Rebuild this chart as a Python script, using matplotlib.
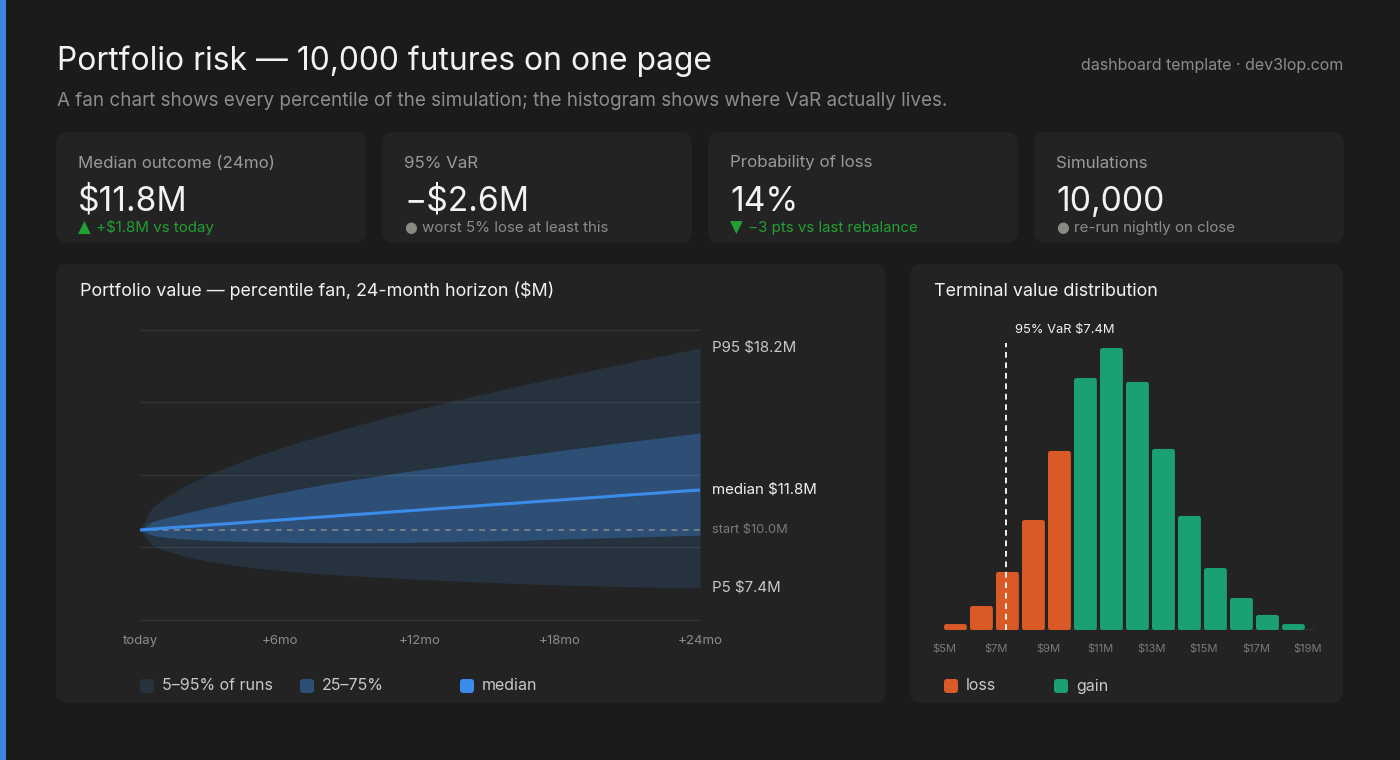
import matplotlib
matplotlib.use("Agg")
import matplotlib.pyplot as plt
from matplotlib.patches import FancyBboxPatch, Rectangle
import numpy as np

plt.rcParams['font.family'] = ['Inter', 'DejaVu Sans']
plt.rcParams['text.parse_math'] = False

# ---------------- data ----------------
months = [0, 0.5, 1, 2, 3, 4, 5, 6, 7, 8, 9, 10, 11, 12,
          13, 14, 15, 16, 17, 18, 19, 20, 21, 22, 23, 24]
p5 = [10.0, 9.32, 9.10, 8.80, 8.58, 8.42, 8.29, 8.18, 8.09, 8.01, 7.95, 7.89, 7.83, 7.78,
      7.73, 7.68, 7.64, 7.60, 7.56, 7.53, 7.50, 7.47, 7.45, 7.43, 7.41, 7.40]
p25 = [10.0, 9.77, 9.68, 9.59, 9.53, 9.50, 9.47, 9.45, 9.44, 9.43, 9.43, 9.43, 9.44, 9.45,
       9.47, 9.49, 9.51, 9.53, 9.56, 9.59, 9.62, 9.65, 9.68, 9.71, 9.74, 9.77]
p50 = [10.0, 10.04, 10.08, 10.15, 10.23, 10.30, 10.38, 10.45, 10.53, 10.60, 10.68, 10.75, 10.83, 10.90,
       10.98, 11.05, 11.13, 11.20, 11.28, 11.35, 11.43, 11.50, 11.58, 11.65, 11.73, 11.80]
p75 = [10.0, 10.37, 10.52, 10.78, 11.02, 11.25, 11.47, 11.68, 11.88, 12.07, 12.24, 12.40, 12.56, 12.71,
       12.86, 13.01, 13.15, 13.29, 13.43, 13.57, 13.71, 13.85, 13.98, 14.11, 14.24, 14.37]
p95 = [10.0, 10.98, 11.41, 12.03, 12.52, 12.95, 13.33, 13.68, 14.01, 14.32, 14.62, 14.91, 15.18, 15.45,
       15.70, 15.95, 16.19, 16.43, 16.66, 16.89, 17.11, 17.33, 17.55, 17.76, 17.97, 18.20]
fan_ticks = [0, 6, 12, 18, 24]
fan_tick_labels = ['today', '+6mo', '+12mo', '+18mo', '+24mo']

bin_edges = [5, 6, 7, 8, 9, 10, 11, 12, 13, 14, 15, 16, 17, 18, 19]
bin_counts = [38, 153, 370, 701, 1141, 1606, 1797, 1581, 1154, 727, 395, 204, 96, 38]
start_value = 10.0
var_value = 7.4
hist_ticks = [5, 7, 9, 11, 13, 15, 17, 19]
hist_tick_labels = ['$5M', '$7M', '$9M', '$11M', '$13M', '$15M', '$17M', '$19M']

kpi_labels = ['Median outcome (24mo)', '95% VaR', 'Probability of loss', 'Simulations']
kpi_values = ['$11.8M', '\u2212$2.6M', '14%', '10,000']
kpi_subs = ['\u25B2 +$1.8M vs today', '\u25CF worst 5% lose at least this',
            '\u25BC \u22123 pts vs last rebalance', '\u25CF re-run nightly on close']
kpi_sub_kind = ['good', 'neutral', 'good', 'neutral']

# ---------------- style ----------------
W, H = 1400, 760
BG = '#1b1b1b'
CARD = '#232323'
WHITE = '#f2f2f2'
MUTED = '#8c8c8c'
LABEL = '#9a9a9a'
SOFT = '#c9c9c9'
GREEN = '#22a033'
OUTER = '#26333f'
INNER = '#2d4f76'
MEDIAN = '#3b8beb'
LOSS = '#d95a27'
GAIN = '#1aa071'

fig = plt.figure(figsize=(14, 7.6), dpi=100, facecolor=BG)
bg = fig.add_axes([0, 0, 1, 1])
bg.set_xlim(0, W)
bg.set_ylim(H, 0)
bg.axis('off')


def px_axes(x0, y0, x1, y1):
    return fig.add_axes([x0 / W, 1 - y1 / H, (x1 - x0) / W, (y1 - y0) / H])


def card(x0, y0, x1, y1, r=12):
    bg.add_patch(FancyBboxPatch((x0, y0), x1 - x0, y1 - y0,
                                boxstyle=f"round,pad=0,rounding_size={r}",
                                facecolor=CARD, edgecolor='none'))


def swatch(x, y, color, s=14):
    bg.add_patch(FancyBboxPatch((x, y), s, s, boxstyle="round,pad=0,rounding_size=3",
                                facecolor=color, edgecolor='none'))


# left accent stripe
bg.add_patch(Rectangle((0, 0), 6, H, facecolor='#3b86e0', edgecolor='none'))

# header
bg.text(57, 70, 'Portfolio risk \u2014 10,000 futures on one page', color=WHITE,
        fontsize=22.9, va='baseline', ha='left')
bg.text(57, 106, 'A fan chart shows every percentile of the simulation; the histogram shows where VaR actually lives.',
        color=MUTED, fontsize=13.6, va='baseline', ha='left')
bg.text(1343, 70, 'dashboard template \u00b7 dev3lop.com', color=MUTED,
        fontsize=11.5, va='baseline', ha='right')

# KPI cards
card_x = [56, 382, 708, 1034]
card_w = 310
for i in range(4):
    x0 = card_x[i]
    card(x0, 132, x0 + card_w, 243)
    tx = x0 + 22
    bg.text(tx, 167.5, kpi_labels[i], color=LABEL, fontsize=12.2, va='baseline')
    bg.text(tx, 211, kpi_values[i], color=WHITE, fontsize=24.2, va='baseline')
    col = GREEN if kpi_sub_kind[i] == 'good' else MUTED
    sym, rest = kpi_subs[i].split(' ', 1)
    good = kpi_sub_kind[i] == 'good'
    symcol = GREEN if good else '#8a8a85'
    bg.text(tx + (0 if good else 0.5), 232.5, sym, color=symcol,
            fontsize=12 if good else 10.5, va='baseline', family=['DejaVu Sans'])
    bg.text(tx + 18, 232, rest, color=col, fontsize=10.9, va='baseline')

# panels
card(56, 264, 886, 703)
card(910, 264, 1343, 703)
bg.text(80, 296, 'Portfolio value \u2014 percentile fan, 24-month horizon ($M)',
        color=WHITE, fontsize=12.9, va='baseline')
bg.text(934, 296, 'Terminal value distribution', color=WHITE, fontsize=12.9, va='baseline')

# ---------------- fan chart ----------------
ax = px_axes(140, 330, 700, 620)
ax.set_facecolor('none')
ax.set_xlim(0, 24)
ax.set_ylim(5.95, 19.0)
ax.fill_between(months, p5, p95, color=OUTER, lw=0, zorder=1)
ax.fill_between(months, p25, p75, color=INNER, lw=0, zorder=2)
for gy in np.linspace(5.95, 19.0, 5):
    ax.axhline(gy, color='white', alpha=0.07, lw=1.0, zorder=3, clip_on=False)
ax.axhline(start_value, color='#8a8a8a', lw=1.1, dashes=(3.8, 3.6), zorder=4)
ax.plot(months, p50, color=MEDIAN, lw=2.2, zorder=5, solid_capstyle='butt')
for s in ax.spines.values():
    s.set_visible(False)
ax.set_yticks([])
ax.set_xticks(fan_ticks, fan_tick_labels)
ax.tick_params(axis='x', length=0, pad=10.5, labelsize=9.5, labelcolor=MUTED)

lab_kw = dict(textcoords='offset points', va='center', ha='left', annotation_clip=False)
ax.annotate(f'P95 ${p95[-1]:.1f}M', xy=(months[-1], p95[-1]), xytext=(9, 0),
            color=SOFT, fontsize=10.8, **lab_kw)
ax.annotate(f'median ${p50[-1]:.1f}M', xy=(months[-1], p50[-1]), xytext=(9, 0),
            color=WHITE, fontsize=10.8, **lab_kw)
ax.annotate(f'start ${start_value:.1f}M', xy=(months[-1], start_value), xytext=(9, 0),
            color='#7a7a7a', fontsize=9.3, **lab_kw)
ax.annotate(f'P5 ${p5[-1]:.1f}M', xy=(months[-1], p5[-1]), xytext=(9, 0),
            color=SOFT, fontsize=10.8, **lab_kw)

# fan legend
for sx, col, txt in [(140, OUTER, '5\u201395% of runs'), (300, INNER, '25\u201375%'), (460, MEDIAN, 'median')]:
    swatch(sx, 679, col)
    bg.text(sx + 22, 686, txt, color=SOFT, fontsize=11.5, va='center')

# ---------------- histogram ----------------
hx = px_axes(944, 330, 1314.5, 630)
hx.set_facecolor('none')
hx.set_xlim(5, 19.25)
ymax = max(bin_counts) * 1.064
hx.set_ylim(0, ymax)
colors = [LOSS if e < start_value else GAIN for e in bin_edges[:-1]]
bars = hx.bar(bin_edges[:-1], bin_counts, width=0.88, align='edge', color=colors, lw=0, zorder=2)
# rounded corners (~2.5 px) on each bar, keeping the bar geometry
x_per_px = (19.25 - 5) / 370.5
y_per_px = ymax / 300.0
for b in bars:
    b.set_visible(False)
    hx.add_patch(FancyBboxPatch((b.get_x(), b.get_y()), b.get_width(), b.get_height(),
                                boxstyle=f"round,pad=0,rounding_size={2.5 * x_per_px}",
                                mutation_aspect=y_per_px / x_per_px,
                                facecolor=b.get_facecolor(), edgecolor='none', zorder=2))
hx.axhline(0, color='#383838', lw=1.2, zorder=1)
hx.axvline(var_value, ymin=0, ymax=0.957, color='white', lw=1.3, dashes=(3.2, 2.6), zorder=4)
hx.annotate(f'95% VaR ${var_value:.1f}M', xy=(var_value, 1.0), xycoords=('data', 'axes fraction'),
            xytext=(6, 0), textcoords='offset points', color=WHITE, fontsize=9.3,
            va='center', ha='left', annotation_clip=False)
for s in hx.spines.values():
    s.set_visible(False)
hx.set_yticks([])
hx.set_xticks(hist_ticks, hist_tick_labels)
hx.tick_params(axis='x', length=0, pad=10, labelsize=8, labelcolor='#7a7a7a')

swatch(944, 679, LOSS)
bg.text(966, 686, 'loss', color=SOFT, fontsize=11.5, va='center')
swatch(1054, 679, GAIN)
bg.text(1076, 686, 'gain', color=SOFT, fontsize=11.5, va='center')

fig.savefig('out.png', dpi=100, facecolor=BG)
